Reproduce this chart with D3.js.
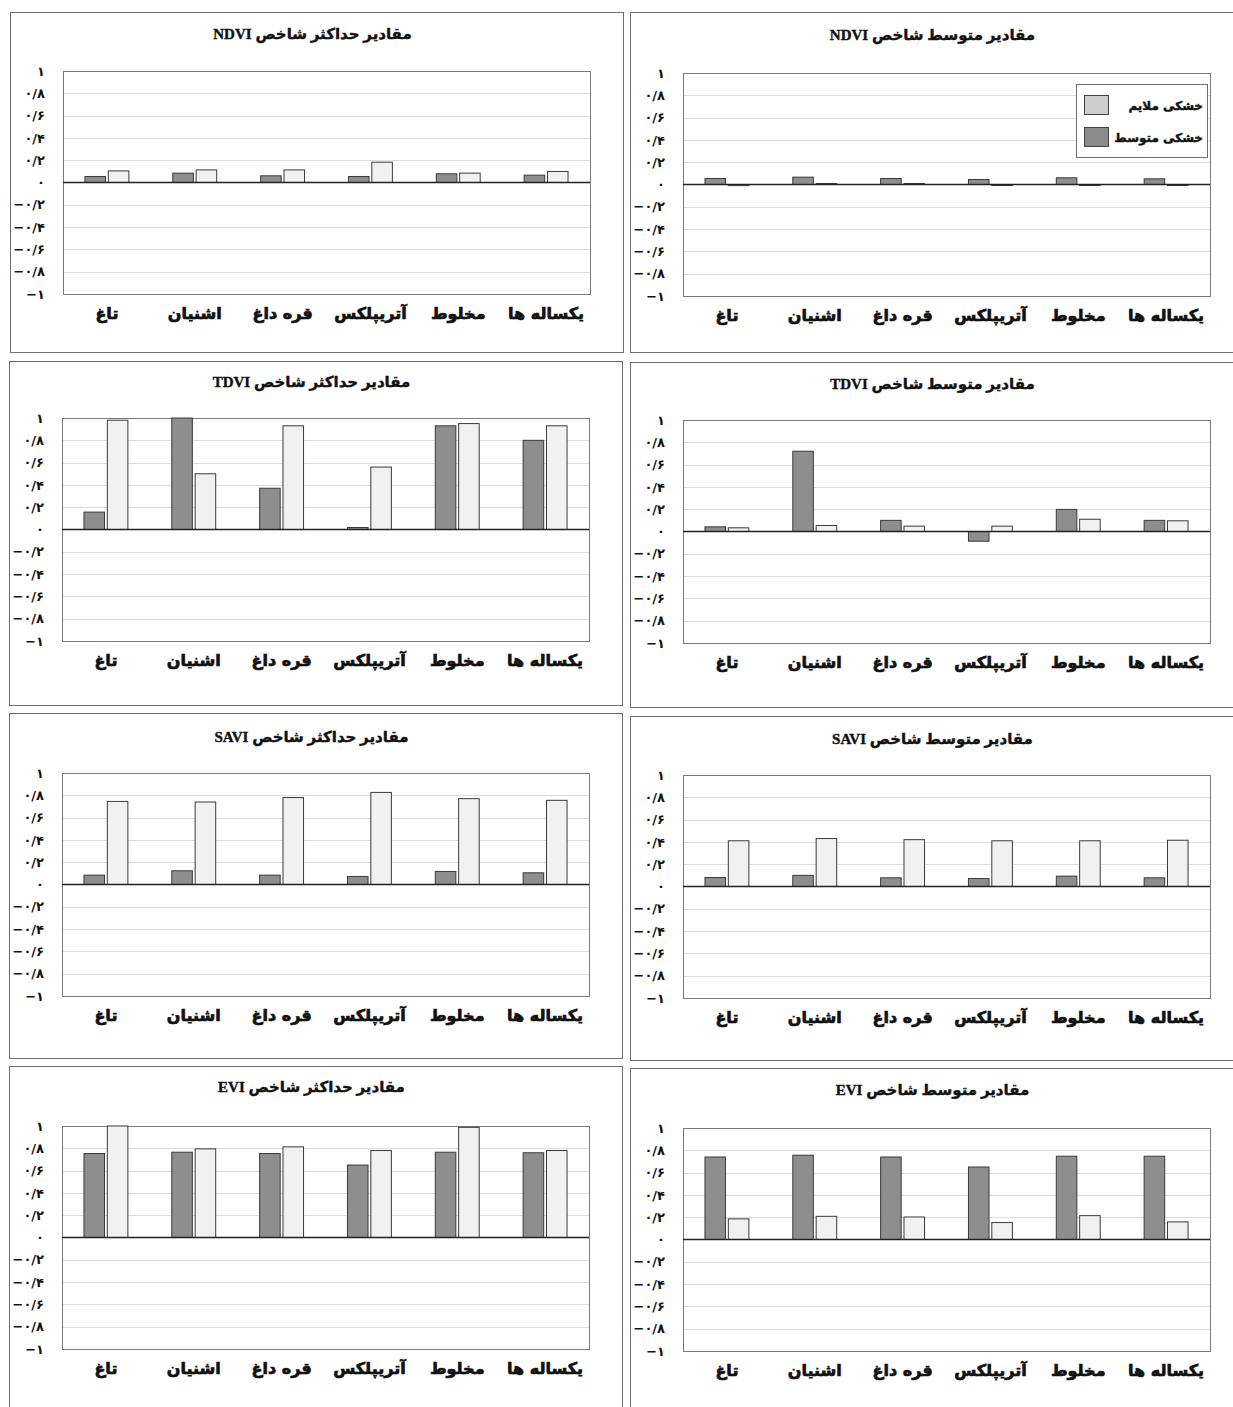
<!DOCTYPE html>
<html><head><meta charset="utf-8">
<script src="https://cdn.jsdelivr.net/npm/d3@7"></script>
<style>html,body{margin:0;padding:0;background:#fff;}</style>
</head><body>
<svg id="c" width="1233" height="1407"></svg>
<script>
// ---- data ----
const categories = ["تاغ", "اشنیان", "قره داغ", "آتریپلکس", "مخلوط", "یکساله ها"];
const seriesNames = ["خشکی متوسط", "خشکی ملایم"]; // dark (left bar), light (right bar)
const legendLabels = ["خشکی ملایم", "خشکی متوسط"];
const tickValues = [1, 0.8, 0.6, 0.4, 0.2, 0, -0.2, -0.4, -0.6, -0.8, -1];
const tickLabels = ["۱", "۰/۸", "۰/۶", "۰/۴", "۰/۲", "۰", "−۰/۲", "−۰/۴", "−۰/۶", "−۰/۸", "−۱"];
const titles = [
  "مقادیر حداکثر شاخص NDVI", "مقادیر متوسط شاخص NDVI",
  "مقادیر حداکثر شاخص TDVI", "مقادیر متوسط شاخص TDVI",
  "مقادیر حداکثر شاخص SAVI", "مقادیر متوسط شاخص SAVI",
  "مقادیر حداکثر شاخص EVI", "مقادیر متوسط شاخص EVI"
];
const ndviMaxModerate = [0.054, 0.084, 0.06, 0.054, 0.078, 0.066];
const ndviMaxMild     = [0.104, 0.113, 0.113, 0.182, 0.084, 0.099];
const ndviMeanModerate = [0.054, 0.066, 0.054, 0.045, 0.06, 0.051];
const ndviMeanMild     = [-0.01, 0.009, 0.009, -0.006, -0.005, -0.009];
const tdviMaxModerate = [0.156, 1.0, 0.37, 0.018, 0.93, 0.80];
const tdviMaxMild     = [0.98, 0.50, 0.93, 0.56, 0.95, 0.93];
const tdviMeanModerate = [0.042, 0.72, 0.10, -0.087, 0.198, 0.10];
const tdviMeanMild     = [0.033, 0.054, 0.048, 0.048, 0.11, 0.096];
const saviMaxModerate = [0.084, 0.123, 0.084, 0.072, 0.117, 0.105];
const saviMaxMild     = [0.745, 0.74, 0.78, 0.826, 0.77, 0.755];
const saviMeanModerate = [0.081, 0.10, 0.078, 0.072, 0.093, 0.078];
const saviMeanMild     = [0.41, 0.43, 0.42, 0.41, 0.41, 0.415];
const eviMaxModerate = [0.753, 0.765, 0.753, 0.65, 0.765, 0.76];
const eviMaxMild     = [1.0, 0.795, 0.813, 0.78, 0.988, 0.78];
const eviMeanModerate = [0.74, 0.756, 0.74, 0.65, 0.747, 0.747];
const eviMeanMild     = [0.185, 0.208, 0.202, 0.152, 0.214, 0.158];

const panelData = [
  [ndviMaxModerate, ndviMaxMild], [ndviMeanModerate, ndviMeanMild],
  [tdviMaxModerate, tdviMaxMild], [tdviMeanModerate, tdviMeanMild],
  [saviMaxModerate, saviMaxMild], [saviMeanModerate, saviMeanMild],
  [eviMaxModerate, eviMaxMild], [eviMeanModerate, eviMeanMild]
];

// ---- layout ----
const boxes = [
  {bx:10, by:12, bw:613, bh:340, px:63, py:71, tY:33, lgd:false},
  {bx:630, by:12, bw:620, bh:340, px:683, py:73, tY:34, lgd:true},
  {bx:9, by:361, bw:613, bh:344, px:62, py:418, tY:381, lgd:false},
  {bx:630, by:362, bw:620, bh:345, px:683, py:420, tY:383, lgd:false},
  {bx:9, by:713, bw:613, bh:345, px:62, py:773, tY:736, lgd:false},
  {bx:630, by:716, bw:620, bh:344, px:683, py:775, tY:738, lgd:false},
  {bx:9, by:1066, bw:613, bh:360, px:62, py:1126, tY:1086, lgd:false},
  {bx:630, by:1068, bw:620, bh:360, px:683, py:1128, tY:1089, lgd:false}
];
const PW = 527, PH = 223;
const fills = ["#8e8e8e", "#f1f1f1"];
const legendFills = ["#cdcdcd", "#8a8a8a"];

const svg = d3.select("#c");
const arabicFont = "'DejaVu Sans', 'Noto Sans', sans-serif";
const titleFont = "'Liberation Serif', 'DejaVu Sans', serif";

boxes.forEach((b, i) => {
  const g = svg.append("g");
  g.append("rect").attr("x", b.bx + 0.5).attr("y", b.by + 0.5)
    .attr("width", b.bw).attr("height", b.bh)
    .attr("fill", "#fff").attr("stroke", "#6f6f6f").attr("stroke-width", 1);

  g.append("text").attr("x", b.px + PW / 2 - 14).attr("y", b.tY + 6)
    .attr("text-anchor", "middle").attr("direction", "rtl")
    .attr("font-family", titleFont).attr("font-weight", "bold").attr("font-size", 15)
    .attr("stroke", "#111").attr("stroke-width", 0.4)
    .attr("fill", "#111").text(titles[i]);

  const y = d3.scaleLinear().domain([-1, 1]).range([b.py + PH, b.py]);
  const x0 = d3.scaleBand().domain(categories).range([b.px, b.px + PW]);
  const bw = x0.bandwidth();
  const x1 = d3.scaleBand().domain(seriesNames).range([bw * 0.25, bw * 0.75]).paddingInner(0.12);

  // gridlines
  g.append("g").selectAll("line").data(tickValues.filter(v => v !== 0 && Math.abs(v) !== 1))
    .join("line")
    .attr("x1", b.px).attr("x2", b.px + PW)
    .attr("y1", d => Math.round(y(d)) + 0.5).attr("y2", d => Math.round(y(d)) + 0.5)
    .attr("stroke", "#dcdcdc").attr("stroke-width", 1);

  // plot frame
  g.append("rect").attr("x", b.px + 0.5).attr("y", y(1) + 0.5)
    .attr("width", PW).attr("height", PH)
    .attr("fill", "none").attr("stroke", "#7a7a7a").attr("stroke-width", 1);

  // bars
  const rows = categories.map((c, ci) => seriesNames.map((s, si) => ({c, s, si, v: panelData[i][si][ci]}))).flat();
  g.append("g").selectAll("rect").data(rows).join("rect")
    .attr("x", d => x0(d.c) + x1(d.s))
    .attr("width", x1.bandwidth())
    .attr("y", d => y(Math.max(0, d.v)))
    .attr("height", d => Math.max(1, Math.abs(y(d.v) - y(0))))
    .attr("fill", d => fills[d.si])
    .attr("stroke", "#3a3a3a").attr("stroke-width", 1);

  // zero line
  g.append("line").attr("x1", b.px).attr("x2", b.px + PW)
    .attr("y1", y(0)).attr("y2", y(0)).attr("stroke", "#222").attr("stroke-width", 1.3);

  // y axis
  const ax = g.append("g").attr("transform", `translate(${b.px - 15},0)`)
    .call(d3.axisLeft(y).tickValues(tickValues).tickSize(0)
      .tickFormat(d => tickLabels[tickValues.indexOf(d)]));
  ax.select(".domain").remove();
  ax.selectAll("text").attr("font-family", arabicFont).attr("font-weight", "bold")
    .attr("font-size", 13).attr("fill", "#111");

  // x labels
  g.append("g").selectAll("text").data(categories).join("text")
    .attr("x", d => x0(d) + bw / 2)
    .attr("y", b.py + PH + 25)
    .attr("text-anchor", "middle").attr("direction", "rtl")
    .attr("font-family", arabicFont).attr("font-weight", "bold").attr("font-size", 16)
    .attr("stroke", "#111").attr("stroke-width", 0.7)
    .attr("fill", "#111").text(d => d);

  if (b.lgd) {
    const lx = 1076, ly = 84;
    const lg = g.append("g");
    lg.append("rect").attr("x", lx + 0.5).attr("y", ly + 0.5).attr("width", 131).attr("height", 73)
      .attr("fill", "#fff").attr("stroke", "#6f6f6f");
    legendLabels.forEach((t, k) => {
      lg.append("rect").attr("x", lx + 8.5).attr("y", ly + 11.5 + k * 32)
        .attr("width", 24).attr("height", 19)
        .attr("fill", legendFills[k]).attr("stroke", "#444");
      lg.append("text").attr("x", lx + 127).attr("y", ly + 26 + k * 32)
        .attr("text-anchor", "start").attr("direction", "rtl")
        .attr("font-family", arabicFont).attr("font-weight", "bold").attr("font-size", 12)
        .attr("stroke", "#111").attr("stroke-width", 0.4)
        .attr("fill", "#111").text(t);
    });
  }
});
</script>
</body></html>
